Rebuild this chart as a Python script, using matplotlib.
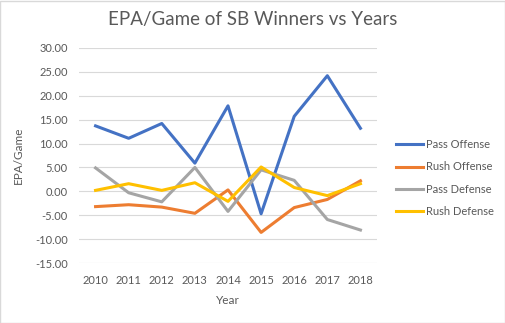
import matplotlib.pyplot as plt
from matplotlib.patches import Rectangle

# data
years = ["2010", "2011", "2012", "2013", "2014", "2015", "2016", "2017", "2018"]
pass_offense = [13.7, 11.1, 14.2, 5.9, 17.9, -4.7, 15.7, 24.2, 13.2]
rush_offense = [-3.2, -2.8, -3.3, -4.6, 0.3, -8.6, -3.4, -1.7, 2.2]
pass_defense = [4.9, -0.3, -2.2, 5.0, -4.2, 4.5, 2.3, -5.9, -8.1]
rush_defense = [0.2, 1.6, 0.2, 1.8, -2.1, 5.1, 0.8, -0.9, 1.6]
y_ticks = [30, 25, 20, 15, 10, 5, 0, -5, -10, -15]

txt = "#595959"
plt.rcParams['font.family'] = ['Lato', 'DejaVu Sans']

fig = plt.figure(figsize=(5.06, 3.23), dpi=100)
ax = fig.add_axes([79 / 506, 1 - 263 / 323, 298 / 506, 215 / 323])

x = list(range(len(years)))
series = [
    ("Pass Offense", pass_offense, "#4472C4"),
    ("Rush Offense", rush_offense, "#ED7D31"),
    ("Pass Defense", pass_defense, "#A5A5A5"),
    ("Rush Defense", rush_defense, "#FFC000"),
]
for name, vals, col in series:
    ax.plot(x, vals, color=col, lw=2.2, label=name, solid_joinstyle="round")

ax.set_xlim(-0.5, len(years) - 0.5)
ax.set_ylim(-15, 30)
ax.set_yticks(y_ticks)
ax.set_yticklabels([f"{v:.2f}" for v in y_ticks])
ax.set_xticks(x)
ax.set_xticklabels(years)
ax.tick_params(length=0, labelsize=8, colors=txt, pad=8)
ax.tick_params(axis="x", pad=9)
ax.grid(axis="y", color="#D9D9D9", lw=0.8)
ax.set_axisbelow(True)
for s in ax.spines.values():
    s.set_visible(False)

ax.set_xlabel("Year", fontsize=8.5, color=txt, labelpad=6)
ax.set_ylabel("EPA/Game", fontsize=8.5, color=txt, labelpad=8)
fig.text(0.5, 1 - 20 / 323, "EPA/Game of SB Winners vs Years", ha="center",
         va="center", fontsize=13.5, color=txt)

ax.legend(loc="center left", bbox_to_anchor=(396 / 506, 1 - 178 / 323),
          bbox_transform=fig.transFigure, frameon=False, fontsize=8,
          labelcolor=txt, handlelength=2.4, handletextpad=0.3,
          labelspacing=1.0, borderaxespad=0, borderpad=0)

fig.patches.append(Rectangle((0.5 / 506, 0.5 / 323), 1 - 1.5 / 506, 1 - 1.5 / 323,
                             transform=fig.transFigure, fill=False,
                             edgecolor="#D9D9D9", lw=1))

fig.savefig("out.png", dpi=100)
